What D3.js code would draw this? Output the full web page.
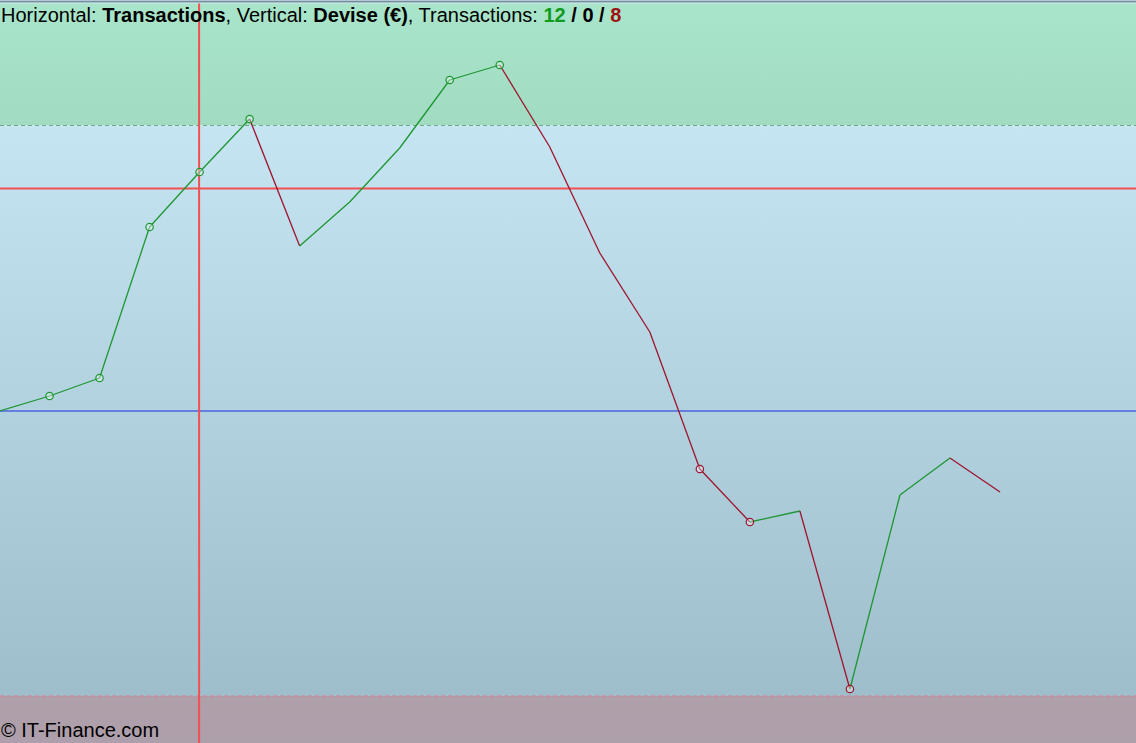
<!DOCTYPE html>
<html><head><meta charset="utf-8">
<script src="https://cdn.jsdelivr.net/npm/d3@7"></script>
<style>html,body{margin:0;padding:0;overflow:hidden;background:#fff}svg{display:block}</style>
</head><body>
<svg id="c" width="1136" height="743"></svg>
<script>
// ---- data ----
const transactions = d3.range(0, 21);
const equity = [0, 150, 330, 1840, 2390, 2920, 1650, 2090, 2630, 3310, 3460, 2640, 1580, 790, -580, -1110, -1000, -2780, -840, -470, -810];
const markedPoints = [1, 2, 3, 4, 5, 9, 10, 14, 15, 17];
const upperLimit = 2855;
const lowerLimit = -2850;
const targetLevel = 2225;
const cursorTransaction = 4;
const counts = {win: "12", even: "0", loss: "8"};

const W = 1136, H = 743;
const svg = d3.select("#c");
const x = d3.scaleLinear().domain([0, 20]).range([-0.5, 1000]);
const y = d3.scaleLinear().domain([-3320, 4110]).range([H, 0]);

const defs = svg.append("defs");
function grad(id, stops) {
  const g = defs.append("linearGradient").attr("id", id).attr("x1", 0).attr("y1", 0).attr("x2", 0).attr("y2", 1);
  stops.forEach(s => g.append("stop").attr("offset", s[0]).attr("stop-color", s[1]));
}
grad("gTop", [[0, "#a9e5ca"], [1, "#a1dcc2"]]);
grad("gMid", [[0, "#c6e5f2"], [1, "#9ebecb"]]);
grad("gBot", [[0, "#af9fa9"], [1, "#ad9fab"]]);

const yU = y(upperLimit), yL = y(lowerLimit);
svg.append("rect").attr("x", 0).attr("y", 0).attr("width", W).attr("height", yU).attr("fill", "url(#gTop)");
svg.append("rect").attr("x", 0).attr("y", yU).attr("width", W).attr("height", yL - yU).attr("fill", "url(#gMid)");
svg.append("rect").attr("x", 0).attr("y", yL).attr("width", W).attr("height", H - yL).attr("fill", "url(#gBot)");

// top border
svg.append("rect").attr("x", 0).attr("y", 0).attr("width", W).attr("height", 1).attr("fill", "#b7c8d2");
svg.append("rect").attr("x", 0).attr("y", 1).attr("width", W).attr("height", 1.6).attr("fill", "#6f8ea0");
svg.append("rect").attr("x", 0).attr("y", 2.6).attr("width", W).attr("height", 1).attr("fill", "#d5e3e8");

// limit lines
svg.append("line").attr("x1", 0).attr("x2", W).attr("y1", yU).attr("y2", yU)
  .attr("stroke", "#6fa88a").attr("stroke-width", 1).attr("stroke-dasharray", "4,3");
svg.append("line").attr("x1", 0).attr("x2", W).attr("y1", yL).attr("y2", yL)
  .attr("stroke", "#e07a8a").attr("stroke-width", 1).attr("stroke-dasharray", "4,3");
// baseline
svg.append("line").attr("x1", 0).attr("x2", W).attr("y1", y(0)).attr("y2", y(0))
  .attr("stroke", "#1a2ee0").attr("stroke-width", 1.2);
// target & cursor
svg.append("line").attr("x1", 0).attr("x2", W).attr("y1", y(targetLevel)).attr("y2", y(targetLevel))
  .attr("stroke", "#f25050").attr("stroke-width", 2);
svg.append("line").attr("x1", x(cursorTransaction) - 0.5).attr("x2", x(cursorTransaction) - 0.5).attr("y1", 3.5).attr("y2", H)
  .attr("stroke", "#f25050").attr("stroke-width", 2);

// segments
const segs = d3.pairs(transactions.map((t, i) => ({t, v: equity[i]})));
const green = "#1e9632", red = "#9e1530";
svg.append("g").selectAll("line").data(segs).join("line")
  .attr("x1", d => x(d[0].t)).attr("y1", d => y(d[0].v))
  .attr("x2", d => x(d[1].t)).attr("y2", d => y(d[1].v))
  .attr("stroke", d => d[1].v >= d[0].v ? green : red)
  .attr("stroke-width", 1.3);

// markers
svg.append("g").selectAll("circle").data(markedPoints).join("circle")
  .attr("cx", i => x(transactions[i])).attr("cy", i => y(equity[i])).attr("r", 3.7)
  .attr("fill", "rgba(255,255,255,0.35)")
  .attr("stroke", i => equity[i] >= equity[i - 1] ? green : red)
  .attr("stroke-width", 1.2);

// header text
const t = svg.append("text").attr("x", 1).attr("y", 22)
  .attr("font-family", "Liberation Sans, Arial, sans-serif").attr("font-size", 20).attr("fill", "#000");
t.append("tspan").text("Horizontal: ");
t.append("tspan").attr("font-weight", "bold").text("Transactions");
t.append("tspan").text(", Vertical: ");
t.append("tspan").attr("font-weight", "bold").text("Devise (€)");
t.append("tspan").text(", Transactions: ");
t.append("tspan").attr("font-weight", "bold").attr("fill", "#129a20").text(counts.win);
t.append("tspan").attr("font-weight", "bold").text(" / " + counts.even + " / ");
t.append("tspan").attr("font-weight", "bold").attr("fill", "#a01010").text(counts.loss);

svg.append("text").attr("x", 1).attr("y", 737)
  .attr("font-family", "Liberation Sans, Arial, sans-serif").attr("font-size", 20).attr("fill", "#000")
  .text("© IT-Finance.com");
</script>
</body></html>
